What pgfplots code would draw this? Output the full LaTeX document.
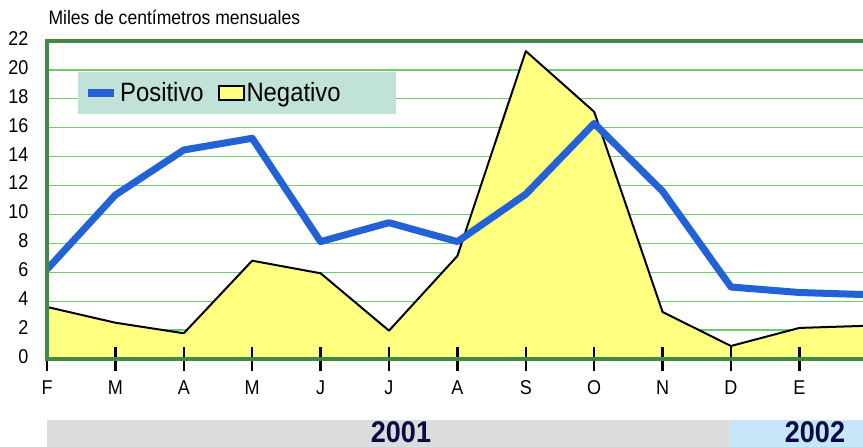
\documentclass[border=0pt]{standalone}
\usepackage{fontspec}
\setmainfont{Liberation Sans}[FakeStretch=0.9]
\usepackage{pgfplots}
\pgfplotsset{compat=1.18}
\definecolor{frameg}{RGB}{70,135,70}
\definecolor{gridg}{RGB}{110,205,110}
\definecolor{posblue}{RGB}{35,97,215}
\definecolor{negfill}{RGB}{255,255,128}
\definecolor{legbg}{RGB}{192,226,216}
\definecolor{bandA}{RGB}{220,220,220}
\definecolor{bandB}{RGB}{200,230,250}
\definecolor{yearnavy}{RGB}{10,10,70}

\begin{document}
\begin{tikzpicture}
\begin{axis}[
  scale only axis, width=816pt, height=318pt,
  xmin=0, xmax=11.93, ymin=0, ymax=22,
  clip mode=individual,
  axis x line*=bottom, axis y line*=left,
  axis line style={frameg, line width=4pt},
  xtick={0,...,11}, xticklabels={F,M,A,M,J,J,A,S,O,N,D,E},
  ytick={0,2,...,22},
  ymajorgrids, grid style={gridg, line width=1.3pt},
  xtick style={draw=none}, ytick style={draw=none},
  /pgf/number format/assume math mode=true,
  typeset ticklabels with strut,
  tick label style={font=\fontsize{20pt}{22pt}\selectfont},
  xticklabel style={yshift=-17pt},
  yticklabel style={xshift=-15pt},
  legend style={at={(0.038,0.9025)}, anchor=north west, fill=legbg, draw=none,
    font=\fontsize{26.5pt}{28pt}\selectfont, inner xsep=6pt, inner ysep=8.5pt,
    nodes={inner xsep=2pt},
    /tikz/every even column/.append style={column sep=12pt}},
  legend columns=2,
]
\addlegendimage{legend image code/.code={\draw[posblue, line width=8pt] (0pt,0pt) -- (26pt,0pt);}}
\addlegendentry{Positivo}
\addlegendimage{legend image code/.code={\draw[fill=negfill, draw=black, line width=1.8pt] (0pt,-7pt) rectangle (25pt,7pt);}}
\addlegendentry{Negativo\hspace*{47pt}}

\addplot[forget plot, fill=negfill, draw=black, line width=2pt, line join=round]
  coordinates {(0,3.6) (1,2.51) (2,1.78) (3,6.8) (4,5.93) (5,1.96) (6,7.13)
               (7,21.3) (8,17.1) (9,3.25) (10,0.9) (11,2.15) (12,2.3)} \closedcycle;
\addplot[forget plot, posblue, line width=7pt, line join=round]
  coordinates {(0,6.2) (1,11.35) (2,14.46) (3,15.27) (4,8.12) (5,9.43) (6,8.12)
               (7,11.4) (8,16.3) (9,11.6) (10,4.98) (11,4.6) (12,4.45)};
% month tick marks, crossing the bottom line
\pgfplotsinvokeforeach{0,...,11}{
  \draw[black, line width=2.5pt] (axis cs:#1,0) ++(0pt,-12pt) -- ++(0pt,24pt);
}
\end{axis}
\draw[frameg, line width=4pt] (820pt,318pt) -- (0pt,318pt) -- (0pt,0pt) -- (820pt,0pt);
\node[anchor=base west, font=\fontsize{19.5pt}{22pt}\selectfont] at (-2pt,334pt) {Miles de centímetros mensuales};
\fill[bandA] (0pt,-88pt) rectangle (682pt,-61pt);
\fill[bandB] (682pt,-88pt) rectangle (816pt,-61pt);
\node[inner sep=0pt, font=\fontsize{30pt}{31pt}\bfseries\selectfont, text=yearnavy] at (354pt,-73pt) {2001};
\node[inner sep=0pt, font=\fontsize{30pt}{31pt}\bfseries\selectfont, text=yearnavy] at (768pt,-73pt) {2002};
\pgfresetboundingbox
\path[use as bounding box] (-47pt,-88pt) rectangle (816pt,359pt);
\end{tikzpicture}
\end{document}
